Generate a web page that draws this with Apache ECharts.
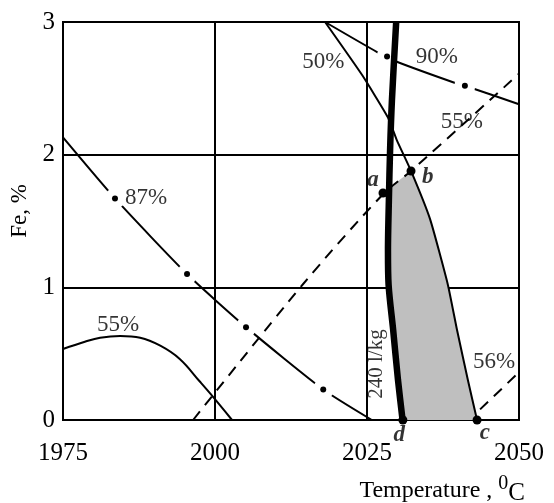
<!DOCTYPE html>
<html>
<head>
<meta charset="utf-8">
<script src="https://cdn.jsdelivr.net/npm/echarts@6/dist/echarts.min.js"></script>
<style>html,body{margin:0;padding:0;background:#fff}#c{width:554px;height:503px}</style>
</head>
<body>
<div id="c"></div>
<script>
// ---- data (Temperature, Fe %) ----
const xTicks = [1975, 2000, 2025, 2050];
const yTicks = [0, 1, 2, 3];

// thick 240 l/kg line
const thickLine = [[2029.8,3],[2029.1,2.41],[2028.8,2.04],[2028.6,1.66],[2028.45,1.28],[2028.55,1.02],[2029.3,0.68],[2030.1,0.3],[2030.85,0]];
// 50% / 56% line (right boundary of grey region)
const fiftyLine = [[2018.1,3],[2024.2,2.6],[2028.45,2.28],[2029.9,2.11],[2032.24,1.877],[2035.4,1.51],[2038.3,1.02],[2039.8,0.68],[2041.6,0.3],[2043.1,0]];
// 90% dash-dot line
const ninetyLine = [[2018.1,3],[2026.8,2.77],[2028.3,2.74],[2029.9,2.70],[2039.5,2.54],[2041.1,2.52],[2050,2.38]];
const ninetyDots = [[2028.3,2.74],[2041.1,2.52]];
// 87% dash-dot line
const eightySevenLine = [[1975,2.13],[1983.55,1.67],[1995.4,1.10],[2005.1,0.70],[2017.8,0.23],[2025.8,0]];
const eightySevenDots = [[1983.55,1.67],[1995.4,1.10],[2005.1,0.70],[2017.8,0.23]];
// 55% dashed line
const fiftyFiveDashed = [[1996.4,0],[2014.5,1.025],[2027.6,1.70],[2032.24,1.877],[2050,2.61]];
// 56% dashed stub
const fiftySixDashed = [[2043.6,0.08],[2050,0.36]];
// 55% solid curve (lower left)
const fiftyFiveCurve = [[1975,0.535],[1978.6,0.59],[1981.1,0.62],[1984.4,0.633],[1987.7,0.62],[1991,0.56],[1994.2,0.46],[1997.5,0.29],[1999.2,0.2],[2002.8,0]];
// marked points a, b, d, c
const markedPoints = [[2027.63,1.711],[2032.24,1.877],[2030.9,0],[2043.1,0]];
// annotations
const labelTexts  = ['50%','90%','55%','87%','55%','56%','240 l/kg','a','b','d','c'];
const labelPoints = [[2017.8,2.70],[2036.5,2.74],[2040.6,2.25],[1988.65,1.673],[1984.05,0.716],[2045.9,0.437],[2026.64,0.422],[2026.0,1.81],[2035.0,1.832],[2030.3,-0.113],[2044.4,-0.098]];

// grey region built from the curves
const greyRegion = [[2028.7,1.75]]
  .concat(fiftyLine.filter(p => p[1] <= 1.88))
  .concat(thickLine.filter(p => p[1] < 1.75).reverse());

const FONT = 'Liberation Serif';
const TXT = '#000';
const chart = echarts.init(document.getElementById('c'));
const thin = (data, extra) => Object.assign({
  type: 'line', data: data, symbol: 'none', z: 2, silent: true,
  lineStyle: { color: '#000', width: 2 }
}, extra || {});

const labelData = labelTexts.map((t, i) => {
  const italic = t.length === 1;
  return {
    name: t, value: labelPoints[i],
    label: {
      rotate: t.indexOf('kg') >= 0 ? 90 : 0,
      fontStyle: italic ? 'italic' : 'normal',
      fontWeight: italic ? 'bold' : 'normal',
      fontSize: italic ? 23 : (t.indexOf('kg') >= 0 ? 21 : 23)
    }
  };
});

chart.setOption({
  animation: false,
  grid: { left: 63, right: 35, top: 22, bottom: 83, show: true, borderColor: '#000', borderWidth: 2, outerBoundsMode: 'none', containLabel: false },
  xAxis: {
    type: 'value', min: xTicks[0], max: xTicks[xTicks.length-1], interval: 25,
    axisLine: { lineStyle: { color: '#000', width: 2 } },
    axisTick: { show: false },
    splitLine: { lineStyle: { color: '#000', width: 2 } },
    axisLabel: { fontFamily: FONT, fontSize: 25, color: TXT, margin: 21, formatter: v => String(v) },
    name: '{t|Temperature , }{s|0}{c|C}',
    nameLocation: 'end', nameGap: 6,
    nameTextStyle: {
      align: 'right', verticalAlign: 'top', padding: [54, 0, 0, 0],
      rich: {
        t: { fontFamily: FONT, fontSize: 24, color: TXT },
        s: { fontFamily: FONT, fontSize: 20, color: TXT, padding: [0, 0, 14, 0] },
        c: { fontFamily: FONT, fontSize: 25, color: TXT, padding: [4, 0, 0, 0] }
      }
    }
  },
  yAxis: {
    type: 'value', min: yTicks[0], max: yTicks[yTicks.length-1], interval: 1,
    axisLine: { lineStyle: { color: '#000', width: 2 } },
    axisTick: { show: false },
    splitLine: { lineStyle: { color: '#000', width: 2 } },
    axisLabel: { fontFamily: FONT, fontSize: 25, color: TXT, margin: 8, formatter: v => String(v) },
    name: 'Fe, %', nameLocation: 'middle', nameGap: 30, nameRotate: 90,
    nameTextStyle: { fontFamily: FONT, fontSize: 23, color: TXT, padding: [0, 0, 0, 20] }
  },
  series: [
    {
      type: 'custom', z: 1, silent: true,
      data: [[2030, 1]],
      renderItem: function (params, api) {
        return { type: 'polygon', shape: { points: greyRegion.map(p => api.coord(p)) }, style: { fill: '#bfbfbf' } };
      }
    },
    thin(fiftyFiveCurve, { smooth: 0.4 }),
    thin(fiftyFiveDashed, { smooth: 0.3, lineStyle: { color: '#000', width: 2, type: [11, 8] } }),
    thin(fiftySixDashed, { lineStyle: { color: '#000', width: 2, type: [11, 8] } }),
    thin(fiftyLine, { smooth: 0.15 }),
    thin(eightySevenLine, { smooth: 0.2 }),
    thin(ninetyLine, { smooth: 0.2 }),
    { type: 'scatter', z: 3, silent: true, data: eightySevenDots.concat(ninetyDots), symbolSize: 21, itemStyle: { color: '#fff', opacity: 1 } },
    thin(thickLine, { smooth: 0.3, z: 4, lineStyle: { color: '#000', width: 6.5 } }),
    { type: 'scatter', z: 5, silent: true, data: eightySevenDots.concat(ninetyDots), symbolSize: 6, itemStyle: { color: '#000', opacity: 1 } },
    { type: 'scatter', z: 5, silent: true, clip: false, data: markedPoints, symbolSize: 9, itemStyle: { color: '#000', opacity: 1 } },
    {
      type: 'scatter', z: 6, silent: true, clip: false, symbolSize: 0, data: labelData,
      label: { show: true, position: 'inside', formatter: '{b}', fontFamily: FONT, color: TXT }
    }
  ]
});
</script>
</body>
</html>
